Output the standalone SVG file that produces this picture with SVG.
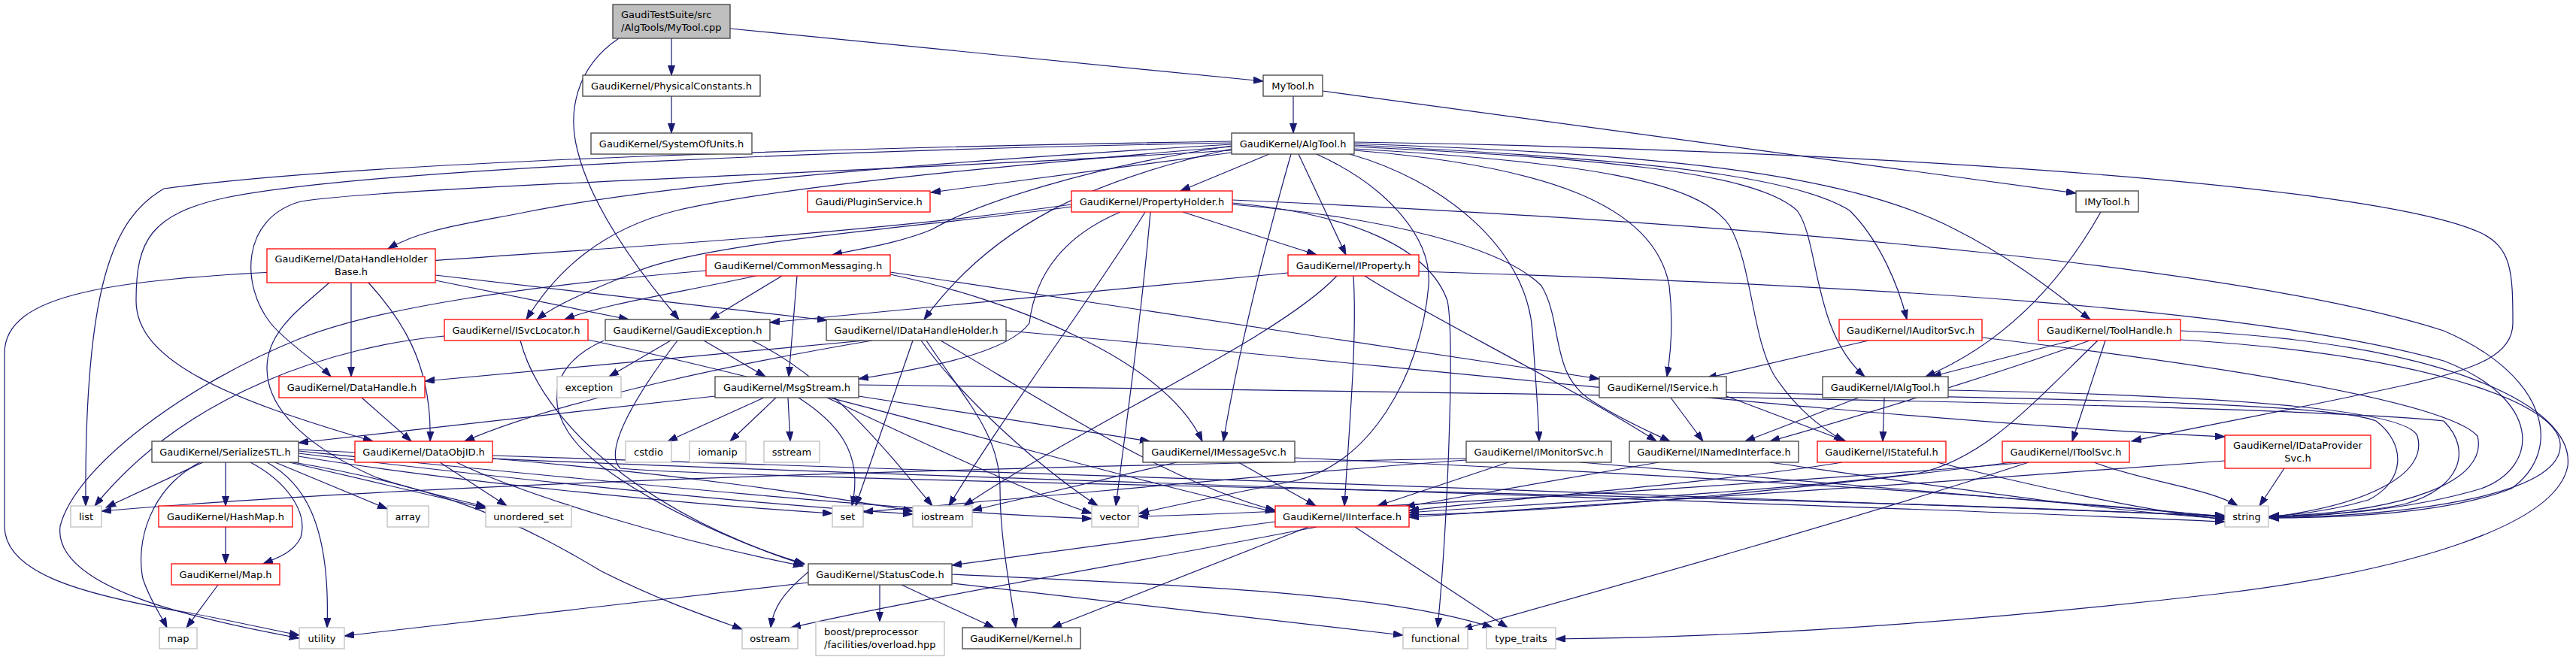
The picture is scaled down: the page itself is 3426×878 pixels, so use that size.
<svg xmlns="http://www.w3.org/2000/svg" width="3426" height="878" viewBox="0 0 3426 878">
<style>
.n rect{fill:#ffffff;stroke-width:1.3}
.nb rect{stroke:#404040}
.nr rect{stroke:#ff0000}
.ng rect{stroke:#bfbfbf}
.nroot rect{fill:#bfbfbf;stroke:#404040}
text{font-family:"DejaVu Sans","Liberation Sans",sans-serif;font-size:13px;fill:#000000}
.c{text-anchor:middle}
#edges path{fill:none;stroke:#191970;stroke-width:1.2;marker-end:url(#ah)}
</style>
<defs>
<marker id="ah" markerUnits="userSpaceOnUse" markerWidth="14" markerHeight="10" refX="13" refY="4.5" orient="auto">
<path d="M0,0 L13,4.5 L0,9 z" fill="#191970" stroke="#191970" stroke-width="1"/>
</marker>
</defs>
<rect x="0" y="0" width="3426" height="878" fill="#ffffff"/>
<g id="edges">
<path d="M893,51 V100"/>
<path d="M971,38 L1680,108"/>
<path d="M823,51 C765,90 755,150 768,200 C785,270 840,350 903,425"/>
<path d="M893,128 V177"/>
<path d="M1720,128 V177"/>
<path d="M1759,121 L2761,257"/>
<path d="M2794,282 C2750,360 2680,450 2561,501"/>
<path d="M1638,203 L1238,256"/>
<path d="M1688,205 L1570,254"/>
<path d="M1727,205 L1790,339"/>
<path d="M1638,198 C1450,240 1320,300 1229,425"/>
<path d="M1638,195 C1400,215 1050,245 900,280 C800,305 740,360 700,425"/>
<path d="M1638,194 C1450,222 1300,270 1240,305 C1200,322 1150,330 1107,339"/>
<path d="M1638,192 C1300,212 900,242 700,282 C620,298 560,305 516,331"/>
<path d="M1638,188 C1200,195 500,212 218,251 C150,290 112,380 114,673"/>
<path d="M1638,190 C1200,198 500,222 300,263 C200,285 181,320 181,400 C181,480 300,530 496,587"/>
<path d="M1638,200 C1200,228 520,248 400,268 C320,290 320,380 360,430 C380,455 420,480 440,501"/>
<path d="M1717,205 C1690,300 1650,450 1627,587"/>
<path d="M1795,205 C1920,240 2030,330 2038,440 C2042,500 2046,550 2047,587"/>
<path d="M1801,200 C2050,220 2200,270 2220,380 C2226,430 2222,470 2217,501"/>
<path d="M1801,195 C2100,210 2330,225 2390,280 C2420,320 2410,440 2480,501"/>
<path d="M1801,193 C2150,210 2380,230 2460,280 C2500,320 2525,380 2536,425"/>
<path d="M1801,191 C2200,205 2450,228 2600,305 C2680,345 2740,395 2780,425"/>
<path d="M1801,198 C2100,215 2260,240 2300,300 C2330,350 2330,450 2360,500 C2390,545 2420,567 2452,587"/>
<path d="M1801,189 C2400,198 3150,240 3300,310 C3340,330 3342,360 3342,430 C3342,470 3300,490 3200,512 C3050,545 2900,572 2835,587"/>
<path d="M1751,205 C1850,250 1905,320 1900,380 C1890,500 1820,620 1720,640 C1620,660 1550,675 1515,683"/>
<path d="M1573,282 L1751,339"/>
<path d="M1425,275 C1250,300 950,320 850,360 C780,388 740,405 714,425"/>
<path d="M1425,272 C1100,318 700,335 400,360 C150,372 6,390 6,470 L6,700 C6,760 100,790 250,815 C320,828 360,838 398,845"/>
<path d="M1490,282 C1400,320 1375,380 1369,430 C1340,470 1230,490 1142,504"/>
<path d="M1523,282 C1470,370 1330,560 1262,673"/>
<path d="M1530,282 C1520,400 1500,550 1484,673"/>
<path d="M1639,270 C1800,285 1900,330 1925,400 C1935,450 1925,700 1912,835"/>
<path d="M1639,272 C1850,290 2000,330 2050,380 C2080,430 2060,500 2120,535 C2160,560 2195,575 2221,587"/>
<path d="M1639,266 C2400,300 3000,360 3250,440 C3390,500 3410,600 3340,650 C3250,685 3100,689 3018,689"/>
<path d="M467,376 V501"/>
<path d="M490,376 C530,420 575,480 572,587"/>
<path d="M579,373 L836,425"/>
<path d="M579,366 L1100,426"/>
<path d="M438,376 C400,410 355,440 355,490 C355,550 420,600 500,635 C560,655 610,665 646,674"/>
<path d="M1005,367 C900,390 800,405 751,425"/>
<path d="M1040,367 L944,425"/>
<path d="M1060,367 L1049,501"/>
<path d="M1184,365 C1350,400 1550,480 1599,587"/>
<path d="M1184,362 L2127,504"/>
<path d="M939,360 C700,380 500,410 400,450 C250,510 100,620 80,700 C70,780 250,822 398,849"/>
<path d="M1713,363 L1024,429"/>
<path d="M1778,367 C1700,450 1450,560 1282,673"/>
<path d="M1800,367 C1805,450 1795,560 1788,673"/>
<path d="M1815,367 C1880,410 2100,520 2203,587"/>
<path d="M1887,361 C2500,380 3000,410 3250,480 C3380,530 3380,620 3300,650 C3200,680 3080,687 3018,688"/>
<path d="M591,447 C450,460 250,520 126,673"/>
<path d="M692,453 C720,560 850,680 1069,751"/>
<path d="M782,452 C1100,520 1500,640 1696,681"/>
<path d="M892,453 L810,501"/>
<path d="M936,453 L1018,501"/>
<path d="M803,453 C720,490 720,560 800,620 C880,680 1000,730 1070,750"/>
<path d="M901,453 C850,520 800,600 825,623 C1000,640 2500,660 2959,688"/>
<path d="M1000,453 C1100,500 1180,600 1240,673"/>
<path d="M1150,453 L565,507"/>
<path d="M1160,453 C1000,480 750,530 618,587"/>
<path d="M1214,453 L1138,673"/>
<path d="M1225,453 C1280,530 1380,620 1460,673"/>
<path d="M1232,453 C1290,540 1330,580 1330,650 C1330,720 1345,790 1351,835"/>
<path d="M1251,453 C1400,540 1550,640 1696,679"/>
<path d="M1338,440 C1800,480 2500,560 2959,581"/>
<path d="M2485,453 L2270,503"/>
<path d="M2636,449 C2900,480 3250,530 3295,580 C3310,640 3200,682 3018,687"/>
<path d="M2755,453 L2569,501"/>
<path d="M2779,453 C2650,500 2450,560 2354,587"/>
<path d="M2800,453 L2756,587"/>
<path d="M2790,453 C2700,540 2640,610 2550,630 C2300,660 2000,672 1874,682"/>
<path d="M2900,452 C3200,470 3400,530 3405,590 C3410,660 3200,686 3018,689"/>
<path d="M2900,440 C3250,455 3425,540 3415,620 C3400,700 3200,760 2950,790 C2600,830 2300,848 2069,850"/>
<path d="M2222,529 L2265,587"/>
<path d="M2296,527 L2455,587"/>
<path d="M2296,522 C2700,530 3100,535 3160,560 C3200,590 3200,640 3150,665 C3100,680 3050,685 3018,687"/>
<path d="M2472,529 L2321,587"/>
<path d="M2506,529 L2504,587"/>
<path d="M2591,519 C2900,525 3200,540 3215,580 C3230,630 3150,672 3018,688"/>
<path d="M1016,529 L888,587"/>
<path d="M1032,529 L971,587"/>
<path d="M1048,529 L1051,587"/>
<path d="M951,527 L397,589"/>
<path d="M1062,529 C1110,560 1150,600 1133,673"/>
<path d="M1142,527 L1529,587"/>
<path d="M1142,512 C1800,520 3000,535 3250,560 C3290,600 3270,650 3200,670 C3150,682 3060,687 3018,688"/>
<path d="M1100,529 C1250,600 1380,660 1452,683"/>
<path d="M481,529 L547,587"/>
<path d="M270,615 L141,675"/>
<path d="M300,615 V673"/>
<path d="M266,615 C200,650 180,720 190,770 C200,800 215,820 222,835"/>
<path d="M333,615 C380,640 410,680 400,715 C390,735 370,742 350,750"/>
<path d="M355,615 C400,640 440,690 435,835"/>
<path d="M366,615 L515,677"/>
<path d="M385,615 L646,676"/>
<path d="M390,615 C600,650 700,700 800,760 C880,800 940,820 987,837"/>
<path d="M397,607 C600,640 900,670 1107,683"/>
<path d="M397,603 C700,640 1000,670 1214,684"/>
<path d="M397,600 C800,640 1200,680 1452,690"/>
<path d="M397,598 C1000,630 2200,660 2959,694"/>
<path d="M585,615 L674,673"/>
<path d="M607,615 C700,660 900,720 1068,753"/>
<path d="M655,610 C900,630 1100,660 1214,680"/>
<path d="M655,606 C1300,630 2400,660 2959,686"/>
<path d="M1565,615 L1293,679"/>
<path d="M1647,615 L1750,673"/>
<path d="M1722,609 C2200,630 2700,660 2959,688"/>
<path d="M2006,615 L1832,673"/>
<path d="M1950,610 C1400,620 600,640 135,680"/>
<path d="M1950,612 C1700,630 1400,660 1148,681"/>
<path d="M2102,615 C2400,640 2750,670 2959,687"/>
<path d="M2206,615 L1869,674"/>
<path d="M2354,615 C2600,650 2800,680 2959,690"/>
<path d="M2450,615 C2300,640 2000,665 1874,679"/>
<path d="M2576,615 C2700,645 2850,680 2959,691"/>
<path d="M2676,615 C2400,650 2100,680 1874,685"/>
<path d="M2698,615 C2400,640 1800,680 1514,687"/>
<path d="M2698,615 C2500,680 2150,780 1945,837"/>
<path d="M2785,615 C2850,640 2940,650 2976,673"/>
<path d="M3038,623 L3005,673"/>
<path d="M2959,613 C2600,640 2100,675 1874,688"/>
<path d="M1696,694 L1266,752"/>
<path d="M1751,701 C1500,750 1200,800 1052,835"/>
<path d="M1740,701 L1399,835"/>
<path d="M1802,701 L2005,835"/>
<path d="M300,701 V750"/>
<path d="M290,778 L248,835"/>
<path d="M1076,760 C1040,790 1028,810 1025,835"/>
<path d="M1170,778 V827"/>
<path d="M1199,778 L1322,835"/>
<path d="M1075,775 L458,846"/>
<path d="M1266,776 L1866,845"/>
<path d="M1266,764 C1600,780 1850,790 1985,835"/>
</g>
<g id="n0" class="n nroot"><rect x="815" y="6" width="156" height="45"/><text x="826" y="24">GaudiTestSuite/src</text><text x="826" y="41">/AlgTools/MyTool.cpp</text></g>
<g id="n1" class="n nb"><rect x="775" y="100" width="236" height="28"/><text class="c" x="893" y="119">GaudiKernel/PhysicalConstants.h</text></g>
<g id="n2" class="n nb"><rect x="786" y="177" width="214" height="28"/><text class="c" x="893" y="196">GaudiKernel/SystemOfUnits.h</text></g>
<g id="n3" class="n nb"><rect x="1680" y="100" width="79" height="28"/><text class="c" x="1719.5" y="119">MyTool.h</text></g>
<g id="n4" class="n nb"><rect x="1638" y="177" width="163" height="28"/><text class="c" x="1719.5" y="196">GaudiKernel/AlgTool.h</text></g>
<g id="n5" class="n nr"><rect x="1074" y="254" width="163" height="28"/><text class="c" x="1155.5" y="273">Gaudi/PluginService.h</text></g>
<g id="n6" class="n nr"><rect x="1425" y="254" width="214" height="28"/><text class="c" x="1532" y="273">GaudiKernel/PropertyHolder.h</text></g>
<g id="n7" class="n nb"><rect x="2761" y="254" width="83" height="28"/><text class="c" x="2802.5" y="273">IMyTool.h</text></g>
<g id="n8" class="n nr"><rect x="355" y="331" width="224" height="45"/><text class="c" x="467" y="349">GaudiKernel/DataHandleHolder</text><text class="c" x="467" y="366">Base.h</text></g>
<g id="n9" class="n nr"><rect x="939" y="339" width="245" height="28"/><text class="c" x="1061.5" y="358">GaudiKernel/CommonMessaging.h</text></g>
<g id="n10" class="n nr"><rect x="1713" y="339" width="174" height="28"/><text class="c" x="1800" y="358">GaudiKernel/IProperty.h</text></g>
<g id="n11" class="n nr"><rect x="591" y="425" width="191" height="28"/><text class="c" x="686.5" y="444">GaudiKernel/ISvcLocator.h</text></g>
<g id="n12" class="n nb"><rect x="805" y="425" width="219" height="28"/><text class="c" x="914.5" y="444">GaudiKernel/GaudiException.h</text></g>
<g id="n13" class="n nb"><rect x="1099" y="425" width="239" height="28"/><text class="c" x="1218.5" y="444">GaudiKernel/IDataHandleHolder.h</text></g>
<g id="n14" class="n nr"><rect x="2446" y="425" width="190" height="28"/><text class="c" x="2541" y="444">GaudiKernel/IAuditorSvc.h</text></g>
<g id="n15" class="n nr"><rect x="2711" y="425" width="189" height="28"/><text class="c" x="2805.5" y="444">GaudiKernel/ToolHandle.h</text></g>
<g id="n16" class="n nr"><rect x="371" y="501" width="194" height="28"/><text class="c" x="468" y="520">GaudiKernel/DataHandle.h</text></g>
<g id="n17" class="n ng"><rect x="741" y="501" width="85" height="28"/><text class="c" x="783.5" y="520">exception</text></g>
<g id="n18" class="n nb"><rect x="951" y="501" width="191" height="28"/><text class="c" x="1046.5" y="520">GaudiKernel/MsgStream.h</text></g>
<g id="n19" class="n nb"><rect x="2127" y="501" width="169" height="28"/><text class="c" x="2211.5" y="520">GaudiKernel/IService.h</text></g>
<g id="n20" class="n nb"><rect x="2424" y="501" width="167" height="28"/><text class="c" x="2507.5" y="520">GaudiKernel/IAlgTool.h</text></g>
<g id="n21" class="n nb"><rect x="202" y="587" width="195" height="28"/><text class="c" x="299.5" y="606">GaudiKernel/SerializeSTL.h</text></g>
<g id="n22" class="n nr"><rect x="472" y="587" width="183" height="28"/><text class="c" x="563.5" y="606">GaudiKernel/DataObjID.h</text></g>
<g id="n23" class="n ng"><rect x="832" y="587" width="61" height="28"/><text class="c" x="862.5" y="606">cstdio</text></g>
<g id="n24" class="n ng"><rect x="917" y="587" width="75" height="28"/><text class="c" x="954.5" y="606">iomanip</text></g>
<g id="n25" class="n ng"><rect x="1016" y="587" width="74" height="28"/><text class="c" x="1053" y="606">sstream</text></g>
<g id="n26" class="n nb"><rect x="1520" y="587" width="202" height="28"/><text class="c" x="1621" y="606">GaudiKernel/IMessageSvc.h</text></g>
<g id="n27" class="n nb"><rect x="1950" y="587" width="193" height="28"/><text class="c" x="2046.5" y="606">GaudiKernel/IMonitorSvc.h</text></g>
<g id="n28" class="n nb"><rect x="2167" y="587" width="225" height="28"/><text class="c" x="2279.5" y="606">GaudiKernel/INamedInterface.h</text></g>
<g id="n29" class="n nr"><rect x="2417" y="587" width="171" height="28"/><text class="c" x="2502.5" y="606">GaudiKernel/IStateful.h</text></g>
<g id="n30" class="n nr"><rect x="2663" y="587" width="169" height="28"/><text class="c" x="2747.5" y="606">GaudiKernel/IToolSvc.h</text></g>
<g id="n31" class="n nr"><rect x="2959" y="579" width="194" height="44"/><text class="c" x="3056" y="597">GaudiKernel/IDataProvider</text><text class="c" x="3056" y="614">Svc.h</text></g>
<g id="n32" class="n ng"><rect x="94" y="673" width="41" height="28"/><text class="c" x="114.5" y="692">list</text></g>
<g id="n33" class="n nr"><rect x="211" y="673" width="178" height="28"/><text class="c" x="300" y="692">GaudiKernel/HashMap.h</text></g>
<g id="n34" class="n ng"><rect x="515" y="673" width="55" height="28"/><text class="c" x="542.5" y="692">array</text></g>
<g id="n35" class="n ng"><rect x="646" y="673" width="114" height="28"/><text class="c" x="703" y="692">unordered_set</text></g>
<g id="n36" class="n ng"><rect x="1107" y="673" width="41" height="28"/><text class="c" x="1127.5" y="692">set</text></g>
<g id="n37" class="n ng"><rect x="1214" y="673" width="79" height="28"/><text class="c" x="1253.5" y="692">iostream</text></g>
<g id="n38" class="n ng"><rect x="1452" y="673" width="62" height="28"/><text class="c" x="1483" y="692">vector</text></g>
<g id="n39" class="n nr"><rect x="1696" y="673" width="178" height="28"/><text class="c" x="1785" y="692">GaudiKernel/IInterface.h</text></g>
<g id="n40" class="n ng"><rect x="2959" y="673" width="58" height="28"/><text class="c" x="2988" y="692">string</text></g>
<g id="n41" class="n nr"><rect x="228" y="750" width="144" height="28"/><text class="c" x="300" y="769">GaudiKernel/Map.h</text></g>
<g id="n42" class="n nb"><rect x="1075" y="750" width="191" height="28"/><text class="c" x="1170.5" y="769">GaudiKernel/StatusCode.h</text></g>
<g id="n43" class="n ng"><rect x="212" y="835" width="50" height="28"/><text class="c" x="237" y="854">map</text></g>
<g id="n44" class="n ng"><rect x="398" y="835" width="60" height="28"/><text class="c" x="428" y="854">utility</text></g>
<g id="n45" class="n ng"><rect x="987" y="835" width="74" height="28"/><text class="c" x="1024" y="854">ostream</text></g>
<g id="n46" class="n ng"><rect x="1085" y="827" width="171" height="45"/><text x="1096" y="845">boost/preprocessor</text><text x="1096" y="862">/facilities/overload.hpp</text></g>
<g id="n47" class="n nb"><rect x="1280" y="835" width="157" height="28"/><text class="c" x="1358.5" y="854">GaudiKernel/Kernel.h</text></g>
<g id="n48" class="n ng"><rect x="1866" y="835" width="86" height="28"/><text class="c" x="1909" y="854">functional</text></g>
<g id="n49" class="n ng"><rect x="1977" y="835" width="92" height="28"/><text class="c" x="2023" y="854">type_traits</text></g>
</svg>
